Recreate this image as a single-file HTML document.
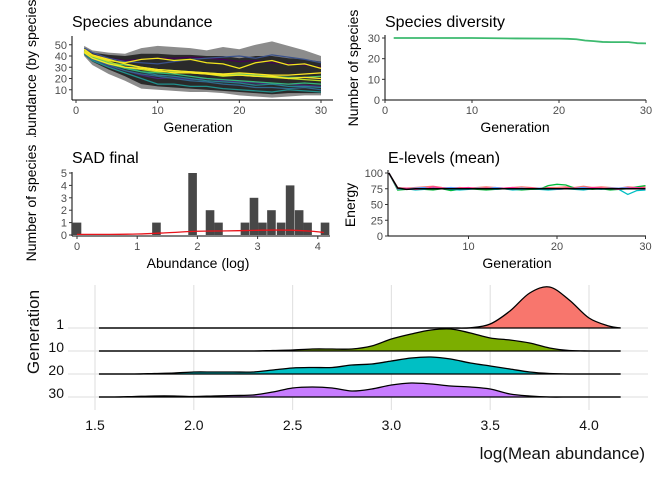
<!DOCTYPE html>
<html><head><meta charset="utf-8"><style>
body{margin:0;background:#fff;}
svg{display:block;font-family:"Liberation Sans",Arial,sans-serif;}
.tk{font-size:11px;fill:#4d4d4d;}
.tt{font-size:16px;fill:#000;}
.at{font-size:14px;fill:#000;}
</style></head><body>
<svg id="c" width="672" height="480" viewBox="0 0 672 480" xmlns="http://www.w3.org/2000/svg">
<defs>
<clipPath id="clipTop"><rect x="0" y="0" width="672" height="137"/></clipPath>
<clipPath id="clipMid"><rect x="0" y="140" width="672" height="130"/></clipPath>
</defs>
<g id="root"></g>
</svg>
<script>
// ---------- Panel 1: species abundance ----------
const abGens = [1,2,4,6,8,10,12,14,16,18,20,22,24,26,28,30];
const abRibbonHi = [49,45,43,42,47,49,48,47,45,48,46,50,53,49,45,40];
const abRibbonLo = [40,32,24,18,11,10,9,8,8,7,5,4,3,4,5,5];
const abBandHi = [46,43,41,40,42,42,41,41,40,40,38,40,40,38,37,35];
const abBandLo = [41,35,28,22,15,13,12,11,10,9,8,7,6,7,7,7];
const abSeries = [
 [45,41,38,36,37,38,38,39,38,37,35,36,34,33,32,30],
 [47,43,38,35,34,33,35,37,38,39,40,38,41,39,37,34],
 [43,37,31,27,23,20,21,19,20,18,17,16,15,15,14,13],
 [42,36,30,25,20,15,15,13,13,11,10,9,8,10,9,8],
 [43,37,32,27,24,22,20,18,17,15,14,12,12,11,12,10],
 [44,38,34,30,26,23,22,20,18,17,16,14,15,13,13,12],
 [44,38,33,29,26,25,24,22,20,19,18,17,16,15,16,15],
 [44,39,34,32,30,28,27,26,25,24,24,23,22,21,21,22],
 [45,40,35,30,28,26,26,25,24,22,23,22,21,20,19,18],
 [43,38,33,30,29,27,25,25,24,23,23,22,22,20,21,20],
 [46,41,37,33,30,28,27,26,25,24,25,24,23,23,24,25],
 [44,40,36,34,37,38,36,37,34,33,29,34,36,32,33,29]
];
const abColors = ["#440154","#3b528b","#482878","#21908d","#31688e","#26828e","#35b779","#5dc863","#b8de29","#fde725","#fde725","#f2e51d"];
const abXTicks = [0,10,20,30];
const abYTicks = [10,20,30,40,50];

// ---------- Panel 2: species diversity ----------
const divGens = [1,5,10,15,20,21,22,23,24,25,26,27,28,29,30];
const divValues = [30,30,30,29.8,29.7,29.6,29.4,28.8,28.5,28.1,28,28,28,27.5,27.4];
const divXTicks = [0,10,20,30];
const divYTicks = [0,10,20,30];

// ---------- Panel 3: SAD final ----------
const sadCenters = [0,1.32,1.92,2.21,2.35,2.79,2.94,3.08,3.23,3.39,3.54,3.69,3.83,4.12];
const sadCounts  = [1,1,5,2,1,1,3,1,2,1,4,2,1,1];
const sadDensX = [0,0.5,1,1.5,2,2.5,3,3.3,3.6,3.9,4.1];
const sadDensY = [0.05,0.05,0.08,0.18,0.3,0.33,0.38,0.4,0.38,0.3,0.2];
const sadXTicks = [0,1,2,3,4];
const sadYTicks = [0,1,2,3,4,5];
const sadBinWidth = 0.143;

// ---------- Panel 4: E-levels ----------
const eGens = [1,2,3,4,5,6,7,8,9,10,11,12,13,14,15,16,17,18,19,20,21,22,23,24,25,26,27,28,29,30];
const eMean = [100,76,74,75,75,75,75,75,75,75,75,75,75,75,75,75,75,75,75,75,75,75,75,75,75,75,75,75,75,75];
const eSeries = [
 [100,77,76,77,78,79,77,76,77,76,77,78,77,76,77,78,77,76,77,77,78,77,79,77,78,77,76,78,77,78],
 [100,73,74,75,74,73,75,72,74,75,74,73,74,75,74,73,74,74,80,82,81,76,75,74,75,73,74,75,78,80],
 [100,74,75,73,74,76,75,74,73,74,75,76,74,75,73,74,75,74,73,74,75,74,73,75,74,75,74,66,72,73],
 [100,76,75,76,77,75,76,77,76,75,76,75,77,76,75,76,75,76,75,74,75,76,77,76,75,76,76,77,75,74],
 [100,75,76,74,75,78,76,75,76,77,75,76,75,76,77,75,76,75,76,75,76,76,75,77,76,75,74,76,77,76]
];
const eColors = ["#f8766d","#00ba38","#00bfc4","#619cff","#ff3399"];
const eXTicks = [10,20,30];
const eYTicks = [0,25,50,75,100];

// ---------- Panel 5: ridgeline ----------
const ridgeGrid = [1.5,1.6,1.7,1.8,1.9,2.0,2.1,2.2,2.3,2.4,2.5,2.6,2.7,2.8,2.9,3.0,3.1,3.2,3.3,3.4,3.5,3.6,3.7,3.8,3.9,4.0,4.1,4.2];
const ridgeLabels = ["1","10","20","30"];
const ridge1  = [0,0,0,0,0,0,0,0,0,0,0,0,0,0,0,0,0,0,0,0.02,0.4,1.7,3.5,4.1,2.8,1.0,0.2,0];
const ridge10 = [0,0,0,0,0,0,0,0,0,0.05,0.1,0.2,0.2,0.2,0.5,1.2,1.7,2.1,2.2,1.8,1.3,1.1,0.8,0.3,0.05,0,0,0];
const ridge20 = [0,0,0,0.05,0.1,0.2,0.2,0.2,0.2,0.4,0.6,0.65,0.65,0.9,1.0,1.3,1.6,1.7,1.5,1.1,0.8,0.5,0.2,0.05,0,0,0,0];
const ridge30 = [0,0,0.05,0.1,0.1,0.05,0.1,0.15,0.2,0.5,0.9,1.0,0.9,0.6,0.8,1.2,1.4,1.3,1.1,1.0,0.8,0.3,0.1,0,0,0,0,0];
const ridgeColors = ["#f8766d","#7cae00","#00bfc4","#c77cff"];
const ridgeXTicks = [1.5,2.0,2.5,3.0,3.5,4.0];

const NS="http://www.w3.org/2000/svg";
const root=document.getElementById('root');
function mk(tag,attrs,parent){const e=document.createElementNS(NS,tag);for(const k in attrs)e.setAttribute(k,attrs[k]);(parent||root).appendChild(e);return e;}
function txt(s,attrs,parent){const e=mk('text',attrs,parent);e.textContent=s;return e;}
function smooth(pts){let d="M"+pts[0][0]+","+pts[0][1];for(let i=0;i<pts.length-1;i++){const p0=pts[i-1]||pts[i],p1=pts[i],p2=pts[i+1],p3=pts[i+2]||p2;d+=" C"+(p1[0]+(p2[0]-p0[0])/6)+","+(p1[1]+(p2[1]-p0[1])/6)+" "+(p2[0]-(p3[0]-p1[0])/6)+","+(p2[1]-(p3[1]-p1[1])/6)+" "+p2[0]+","+p2[1];}return d;}
function poly(pts){return "M"+pts.map(p=>p[0]+","+p[1]).join(" L");}

// ===== Panel 1 =====
{
const g=mk('g',{});


const x=v=>76+v*245/30, y=v=>101-v*1.125;
const rib=abGens.map((gg,i)=>[x(gg),y(abRibbonHi[i])]).concat(abGens.map((gg,i)=>[x(gg),y(abRibbonLo[i])]).reverse());
const r=mk('path',{d:poly(rib)+"Z",fill:"#8c8c8c"},g);


const band=abGens.map((gg,i)=>[x(gg),y(abBandHi[i])]).concat(abGens.map((gg,i)=>[x(gg),y(abBandLo[i])]).reverse());
const b=mk('path',{d:poly(band)+"Z",fill:"#2a2a2a"},g);


abSeries.forEach((s,k)=>{
 const p=mk('path',{d:poly(abGens.map((gg,i)=>[x(gg),y(s[i])])),fill:"none",stroke:abColors[k],"stroke-width":1.3},g);
 
 
});
mk('line',{x1:72,y1:36,x2:72,y2:100,stroke:"#000","stroke-width":1},g);
mk('line',{x1:72,y1:100,x2:333,y2:100,stroke:"#000","stroke-width":1},g);
abXTicks.forEach(t=>{mk('line',{x1:x(t),y1:100,x2:x(t),y2:103,stroke:"#333"},g);const e=txt(String(t),{x:x(t),y:114,"text-anchor":"middle",class:"tk"},g);});
abYTicks.forEach(t=>{mk('line',{x1:69,y1:y(t),x2:72,y2:y(t),stroke:"#333"},g);const e=txt(String(t),{x:67,y:y(t)+4,"text-anchor":"end",class:"tk"},g);});
const t1=txt("Species abundance",{x:72,y:27,class:"tt"},g);
const xa=txt("Generation",{x:198,y:132,"text-anchor":"middle",class:"at"},g);
const cg=mk('g',{"clip-path":"url(#clipTop)"},g);
const ya=txt("Abundance (by species)",{x:0,y:0,"text-anchor":"middle",class:"at",transform:"translate(36,70) rotate(-90)"},cg);
}

// ===== Panel 2 =====
{
const g=mk('g',{});


const x=v=>385+v*261/30, y=v=>100-v*62/30;
const p=mk('path',{d:poly(divGens.map((gg,i)=>[x(gg),y(divValues[i])])),fill:"none",stroke:"#3dba6f","stroke-width":1.8},g);


mk('line',{x1:385,y1:35,x2:385,y2:100,stroke:"#000"},g);
mk('line',{x1:385,y1:100,x2:646,y2:100,stroke:"#000"},g);
divXTicks.forEach(t=>{mk('line',{x1:x(t),y1:100,x2:x(t),y2:103,stroke:"#333"},g);const e=txt(String(t),{x:x(t),y:114,"text-anchor":"middle",class:"tk"},g);});
divYTicks.forEach(t=>{mk('line',{x1:382,y1:y(t),x2:385,y2:y(t),stroke:"#333"},g);const e=txt(String(t),{x:380,y:y(t)+4,"text-anchor":"end",class:"tk"},g);});
const t1=txt("Species diversity",{x:385,y:27,class:"tt"},g);
const xa=txt("Generation",{x:515,y:132,"text-anchor":"middle",class:"at"},g);
const ya=txt("Number of species",{x:0,y:0,"text-anchor":"middle",class:"at",transform:"translate(358,68) rotate(-90)"},g);
}

// ===== Panel 3 =====
{
const g=mk('g',{});


const x=v=>77+v*60.2, y=v=>235-v*12.4;
sadCenters.forEach((c,i)=>{
 const r=mk('rect',{x:x(c-sadBinWidth/2),y:y(sadCounts[i]),width:sadBinWidth*60.2,height:sadCounts[i]*12.4,fill:"#474747"},g);
 
 
});
const d=mk('path',{d:smooth(sadDensX.map((v,i)=>[x(v),y(sadDensY[i])])),fill:"none",stroke:"#e8141b","stroke-width":1.3},g);


mk('line',{x1:72,y1:172,x2:72,y2:236,stroke:"#000"},g);
mk('line',{x1:72,y1:236,x2:330,y2:236,stroke:"#000"},g);
sadXTicks.forEach(t=>{mk('line',{x1:x(t),y1:236,x2:x(t),y2:239,stroke:"#333"},g);const e=txt(String(t),{x:x(t),y:250,"text-anchor":"middle",class:"tk"},g);});
sadYTicks.forEach(t=>{mk('line',{x1:69,y1:y(t),x2:72,y2:y(t),stroke:"#333"},g);const e=txt(String(t),{x:67,y:y(t)+4,"text-anchor":"end",class:"tk"},g);});
const t1=txt("SAD final",{x:72,y:163,class:"tt"},g);
const xa=txt("Abundance (log)",{x:198,y:268,"text-anchor":"middle",class:"at"},g);
const cg=mk('g',{"clip-path":"url(#clipMid)"},g);
const ya=txt("Number of species",{x:0,y:0,"text-anchor":"middle",class:"at",transform:"translate(36,203) rotate(-90)"},cg);
}

// ===== Panel 4 =====
{
const g=mk('g',{});


const x=v=>380+v*8.85, y=v=>236-v*0.63;
eSeries.forEach((s,k)=>{
 const p=mk('path',{d:poly(eGens.map((gg,i)=>[x(gg),y(s[i])])),fill:"none",stroke:eColors[k],"stroke-width":1.3},g);
 
 
});
const m=mk('path',{d:poly(eGens.map((gg,i)=>[x(gg),y(eMean[i])])),fill:"none",stroke:"#000","stroke-width":1.5},g);


mk('line',{x1:388,y1:170,x2:388,y2:236,stroke:"#000"},g);
mk('line',{x1:388,y1:236,x2:646,y2:236,stroke:"#000"},g);
eXTicks.forEach(t=>{mk('line',{x1:x(t),y1:236,x2:x(t),y2:239,stroke:"#333"},g);const e=txt(String(t),{x:x(t),y:250,"text-anchor":"middle",class:"tk"},g);});
eYTicks.forEach(t=>{mk('line',{x1:385,y1:y(t),x2:388,y2:y(t),stroke:"#333"},g);const e=txt(String(t),{x:383,y:y(t)+4,"text-anchor":"end",class:"tk"},g);});
const t1=txt("E-levels (mean)",{x:388,y:163,class:"tt"},g);
const xa=txt("Generation",{x:517,y:268,"text-anchor":"middle",class:"at"},g);
const ya=txt("Energy",{x:0,y:0,"text-anchor":"middle",class:"at",transform:"translate(355,205) rotate(-90)"},g);
}

// ===== Panel 5: ridgeline =====
{
const g=mk('g',{});


const x=v=>95+(v-1.5)*197.6;
const bases=[328,351,374,397];
const data=[ridge1,ridge10,ridge20,ridge30];
ridgeXTicks.forEach(t=>{mk('line',{x1:x(t),y1:285,x2:x(t),y2:410,stroke:"#e3e3e3","stroke-width":1.2},g);});
bases.forEach(b=>{mk('line',{x1:68,y1:b,x2:648,y2:b,stroke:"#e3e3e3","stroke-width":1.2},g);});
const xs0=x(1.52), xs1=x(4.16);
data.forEach((dd,k)=>{
 const b=bases[k];
 const pts=ridgeGrid.map((v,i)=>[x(v),b-dd[i]*10]);
 pts[0][0]=xs0; pts[pts.length-1][0]=xs1;
 const d=smooth(pts);
 const f=mk('path',{d:d+" L"+xs1+","+b+" L"+xs0+","+b+"Z",fill:ridgeColors[k],stroke:"none"},g);
 
 
 const l=mk('path',{d:d,fill:"none",stroke:"#000","stroke-width":1.3},g);
 
 
 mk('line',{x1:xs0,y1:b,x2:xs1,y2:b,stroke:"#000","stroke-width":1.2},g);
 const e=txt(ridgeLabels[k],{x:64,y:b+1,"text-anchor":"end",style:"font-size:14px;fill:#111"},g);
 
 
});
ridgeXTicks.forEach(t=>{const e=txt(t.toFixed(1),{x:x(t),y:430,"text-anchor":"middle",style:"font-size:14px;fill:#111"},g);});
const xa=txt("log(Mean abundance)",{x:645,y:459,"text-anchor":"end",style:"font-size:17px;fill:#111"},g);
const ya=txt("Generation",{x:0,y:0,"text-anchor":"middle",style:"font-size:17px;fill:#111",transform:"translate(39,332) rotate(-90)"},g);
}
</script>
</body></html>
